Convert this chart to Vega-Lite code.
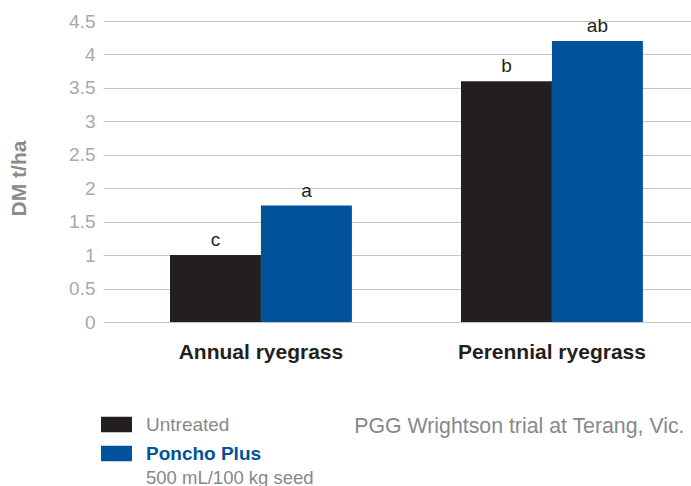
{
  "$schema": "https://vega.github.io/schema/vega-lite/v6.json",
  "width": 588,
  "height": 301,
  "autosize": {"type": "none"},
  "padding": {"left": 103, "top": 21, "right": 0, "bottom": 164},
  "background": "white",
  "config": {
    "view": {"stroke": null},
    "font": "Liberation Sans"
  },
  "data": {
    "values": [
      {"grass": "Annual ryegrass", "treatment": "Untreated", "dm": 1.0, "letter": "c"},
      {"grass": "Annual ryegrass", "treatment": "Poncho Plus", "dm": 1.74, "letter": "a"},
      {"grass": "Perennial ryegrass", "treatment": "Untreated", "dm": 3.6, "letter": "b"},
      {"grass": "Perennial ryegrass", "treatment": "Poncho Plus", "dm": 4.2, "letter": "ab"}
    ]
  },
  "encoding": {
    "x": {
      "field": "grass",
      "type": "nominal",
      "sort": ["Annual ryegrass", "Perennial ryegrass"],
      "scale": {"paddingInner": 0.375, "paddingOuter": 0.1978, "align": 0.582},
      "axis": {
        "title": "PGG Wrightson trial at Terang, Vic.",
        "titleAnchor": "end",
        "titleX": 581,
        "titleAlign": "right",
        "titleFontSize": 21.3,
        "titleFontWeight": "normal",
        "titleColor": "#888888",
        "titlePadding": 53,
        "labelAngle": 0,
        "labelFontSize": 21,
        "labelFontWeight": "bold",
        "labelColor": "#231f20",
        "labelPadding": 19,
        "labelLimit": 0,
        "domain": false,
        "ticks": false
      }
    },
    "xOffset": {
      "field": "treatment",
      "type": "nominal",
      "sort": ["Untreated", "Poncho Plus"],
      "scale": {"paddingInner": 0, "paddingOuter": 0}
    },
    "y": {
      "field": "dm",
      "type": "quantitative",
      "scale": {"domain": [0, 4.5], "nice": false},
      "axis": {
        "title": "DM t/ha",
        "titleFontSize": 21,
        "titleFontWeight": "bold",
        "titleColor": "#8a8a8a",
        "titlePadding": 39,
        "titleY": 157,
        "values": [0, 0.5, 1, 1.5, 2, 2.5, 3, 3.5, 4, 4.5],
        "format": "~g",
        "labelFontSize": 19,
        "labelColor": "#a7a9ac",
        "labelPadding": 8,
        "ticks": false,
        "domain": false,
        "grid": true,
        "gridColor": "#c6c6c6",
        "gridWidth": 1
      }
    }
  },
  "layer": [
    {
      "mark": {"type": "bar"},
      "encoding": {
        "color": {
          "field": "treatment",
          "type": "nominal",
          "scale": {
            "domain": ["Untreated", "Poncho Plus", "500 mL/100 kg seed"],
            "range": ["#231f20", "#00529b", "transparent"]
          },
          "legend": {
            "title": null,
            "orient": "none",
            "legendX": -2,
            "legendY": 388,
            "direction": "vertical",
            "padding": 0,
            "symbolType": "M-1,-0.5H1V0.5H-1Z",
            "symbolSize": 961,
            "symbolStrokeWidth": 0,
            "labelFontSize": 19,
            "labelOffset": 14,
            "labelLimit": 0,
            "rowPadding": 3,
            "encode": {
              "labels": {
                "update": {
                  "fill": {"signal": "datum.value === 'Poncho Plus' ? '#00529b' : '#888888'"},
                  "fontWeight": {"signal": "datum.value === 'Poncho Plus' ? 'bold' : 'normal'"},
                  "fontSize": {"signal": "datum.value === '500 mL/100 kg seed' ? 18.5 : 19"},
                  "dy": {"signal": "datum.value === '500 mL/100 kg seed' ? -5 : 0"}
                }
              }
            }
          }
        }
      }
    },
    {
      "mark": {"type": "text", "baseline": "bottom", "dy": -5, "fontSize": 19, "color": "#231f20"},
      "encoding": {
        "text": {"field": "letter"}
      }
    }
  ]
}
